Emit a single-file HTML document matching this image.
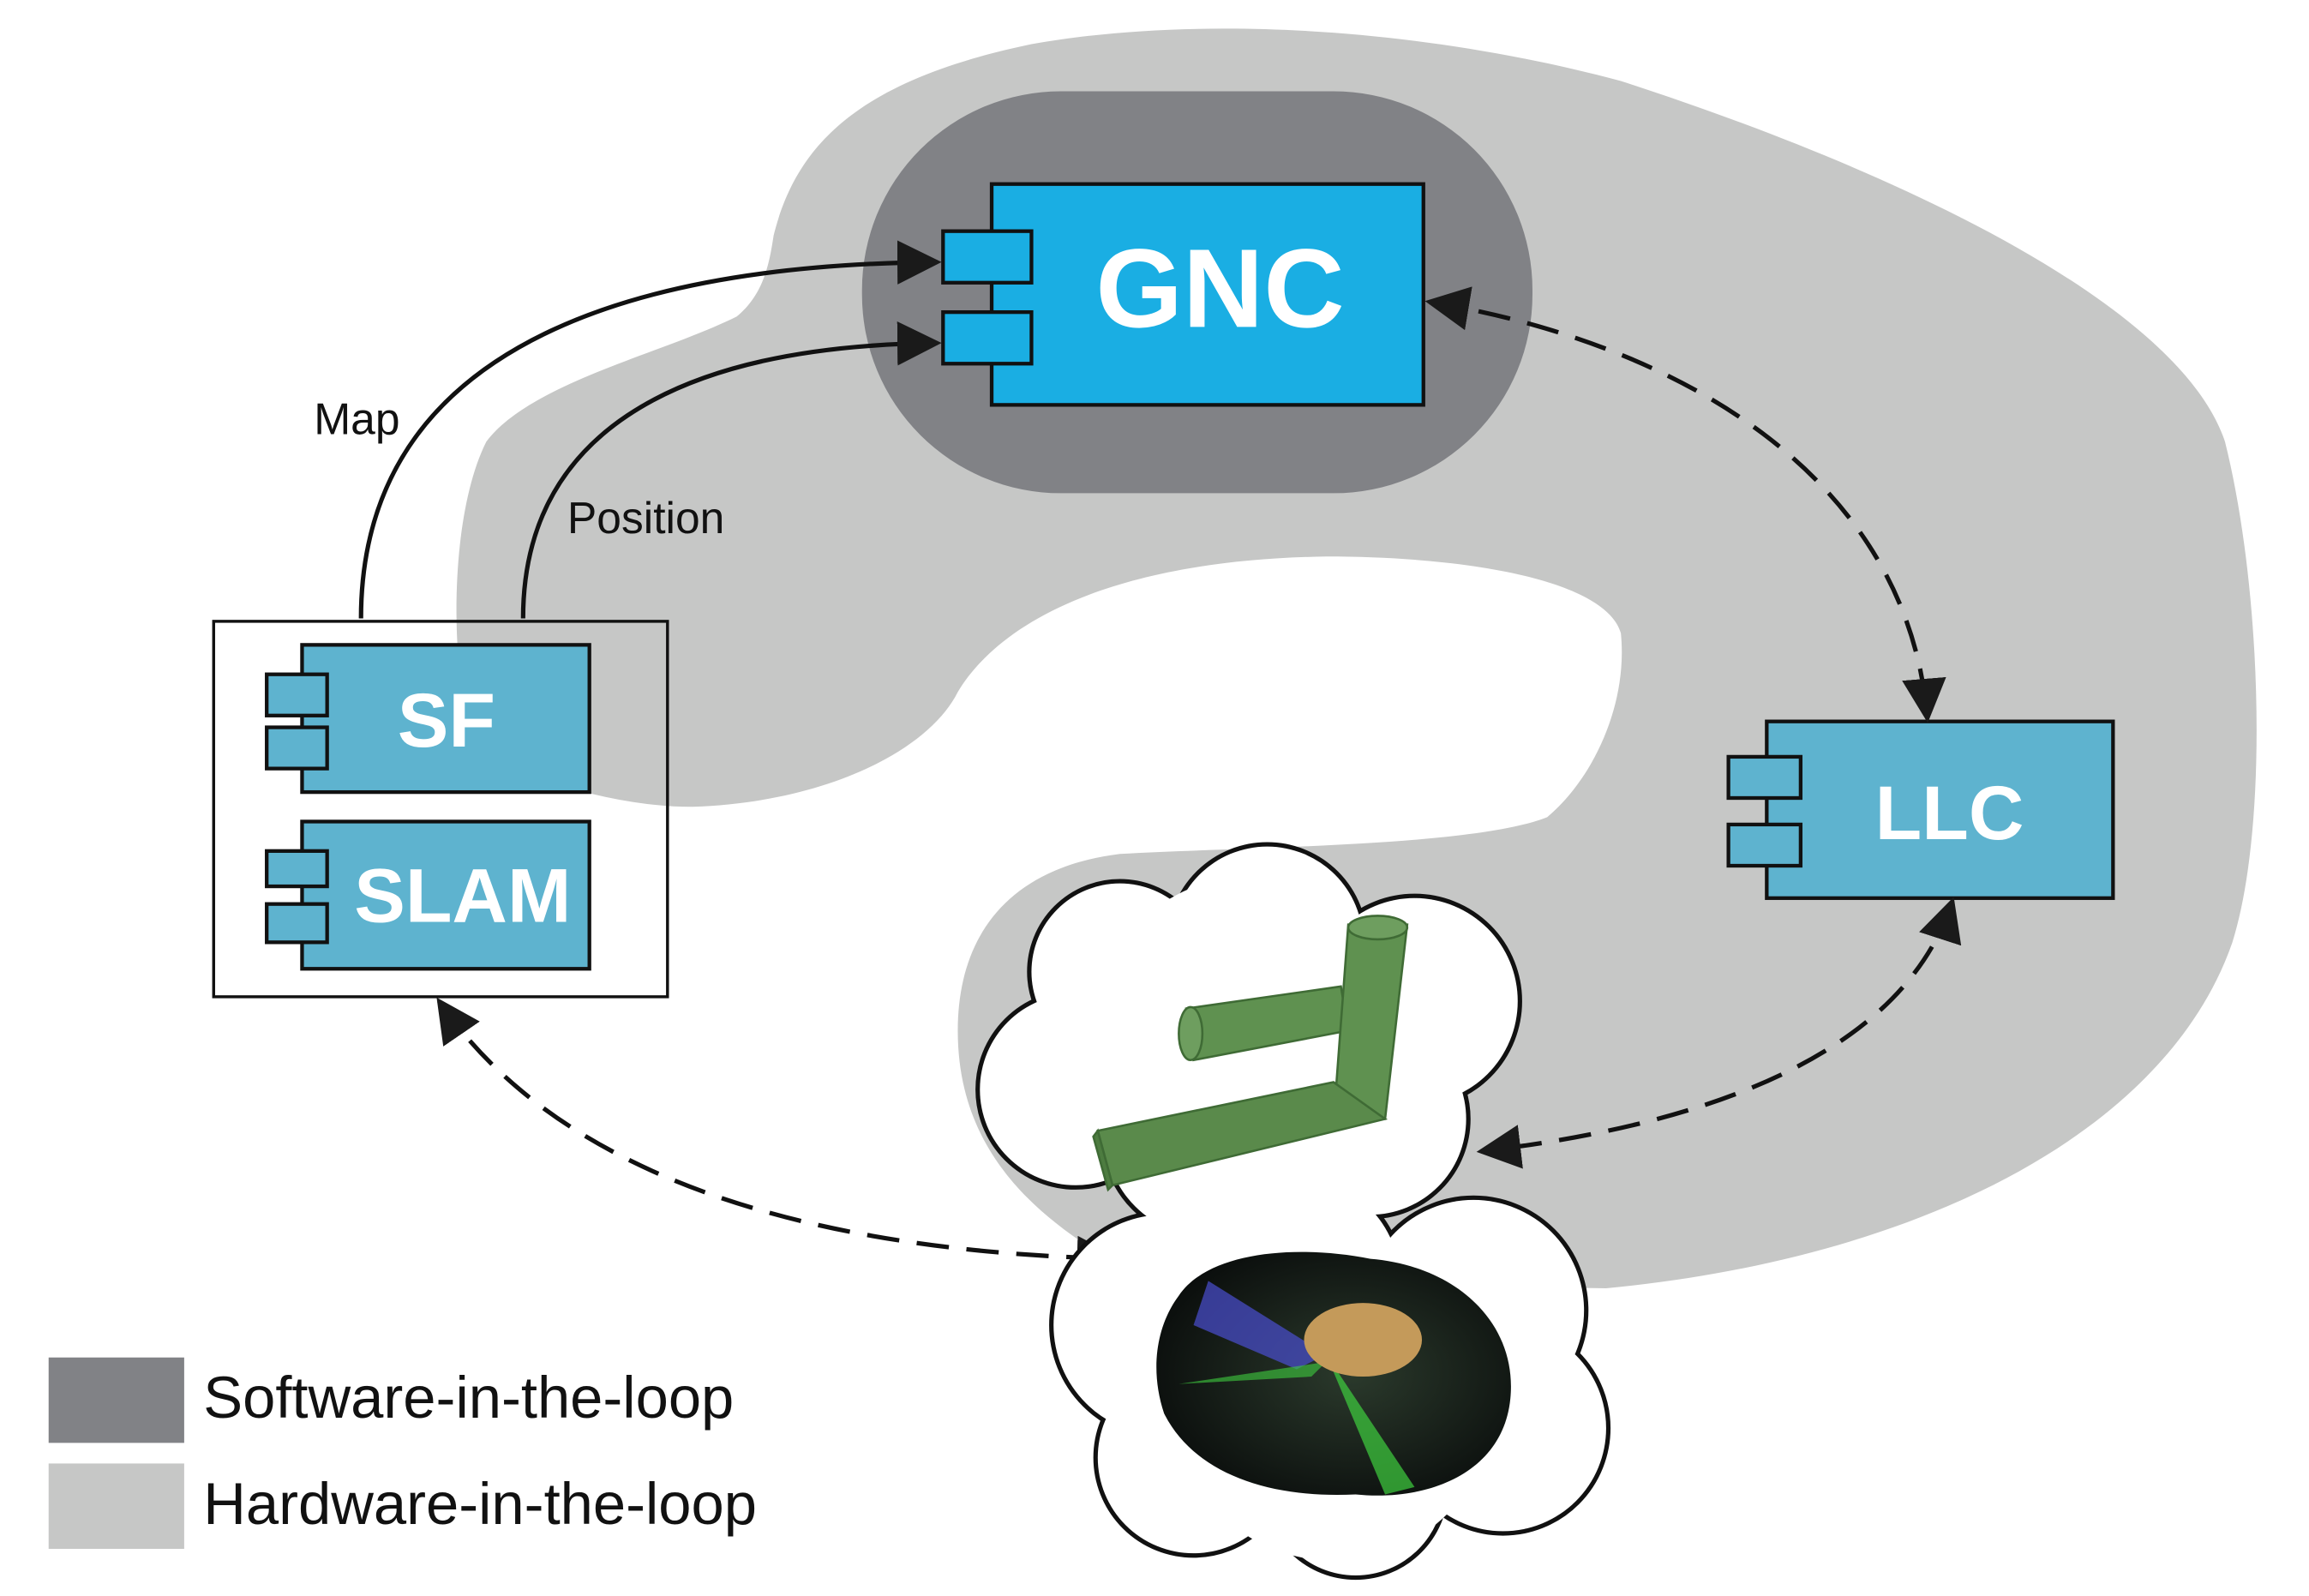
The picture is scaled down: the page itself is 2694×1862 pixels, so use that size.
<!DOCTYPE html>
<html><head><meta charset="utf-8"><style>
html,body{margin:0;padding:0;background:#fff;}
svg{display:block;}
text{font-family:"Liberation Sans",Arial,sans-serif;}
</style></head><body>
<svg width="2694" height="1862" viewBox="0 0 1567 1084" preserveAspectRatio="none" xmlns="http://www.w3.org/2000/svg">
<defs>
<marker id="ahs" viewBox="0 0 10 10" refX="9" refY="5" markerWidth="10" markerHeight="10" orient="auto-start-reverse">
<path d="M0,0 L10,5 L0,10 Z" fill="#1a1a1a"/></marker>
<radialGradient id="rg" cx="0.55" cy="0.5" r="0.6">
<stop offset="0" stop-color="#2b3a2c"/><stop offset="1" stop-color="#0a0d0c"/></radialGradient>
</defs>
<path fill="#c6c7c6" d="M525,160 C540,100 580,55 700,30 C800,12 950,15 1100,55 C1300,120 1480,210 1510,300 C1535,400 1540,560 1515,640 C1470,770 1300,855 1090,875 L780,870 C700,830 650,780 650,700 C650,640 680,590 760,580 C850,575 1000,575 1050,555 C1080,530 1105,480 1100,430 C1090,395 1000,378 900,378 C760,380 680,420 650,470 C630,510 560,545 470,548 C420,548 350,530 320,500 C305,450 305,350 330,300 C360,260 450,240 500,215 C518,200 522,180 525,160 Z"/>
<rect x="585" y="62" width="455" height="273" rx="135" fill="#818286"/>
<rect x="673" y="125" width="293" height="150" fill="#1aaee3" stroke="#111" stroke-width="2.5"/>
<rect x="640" y="157" width="60" height="35" fill="#1aaee3" stroke="#111" stroke-width="2.5"/>
<rect x="640" y="212" width="60" height="35" fill="#1aaee3" stroke="#111" stroke-width="2.5"/>
<text x="828" y="222" font-size="76" font-weight="bold" fill="#fff" text-anchor="middle">GNC</text>
<rect x="145" y="422" width="308" height="255" fill="none" stroke="#111" stroke-width="2"/>
<rect x="205" y="438" width="195" height="100" fill="#5eb3cf" stroke="#111" stroke-width="2.5"/>
<rect x="181" y="458" width="41" height="28" fill="#5eb3cf" stroke="#111" stroke-width="2.5"/>
<rect x="181" y="494" width="41" height="28" fill="#5eb3cf" stroke="#111" stroke-width="2.5"/>
<text x="303" y="507" font-size="52" font-weight="bold" fill="#fff" text-anchor="middle">SF</text>
<rect x="205" y="558" width="195" height="100" fill="#5eb3cf" stroke="#111" stroke-width="2.5"/>
<rect x="181" y="578" width="41" height="24" fill="#5eb3cf" stroke="#111" stroke-width="2.5"/>
<rect x="181" y="614" width="41" height="26" fill="#5eb3cf" stroke="#111" stroke-width="2.5"/>
<text x="314" y="626" font-size="52" font-weight="bold" fill="#fff" text-anchor="middle">SLAM</text>
<rect x="1199" y="490" width="235" height="120" fill="#5eb3cf" stroke="#111" stroke-width="2.5"/>
<rect x="1173" y="514" width="49" height="28" fill="#5eb3cf" stroke="#111" stroke-width="2.5"/>
<rect x="1173" y="560" width="49" height="28" fill="#5eb3cf" stroke="#111" stroke-width="2.5"/>
<text x="1323" y="570" font-size="52" font-weight="bold" fill="#fff" text-anchor="middle">LLC</text>
<path d="M245,420 C245,250 400,180 636,178" fill="none" stroke="#111" stroke-width="3" marker-end="url(#ahs)"/>
<path d="M355,420 C355,300 450,235 636,233" fill="none" stroke="#111" stroke-width="3" marker-end="url(#ahs)"/>
<text x="213" y="295" font-size="30" fill="#111">Map</text>
<text x="385" y="362" font-size="30" fill="#111">Position</text>
<path d="M970,205 C1150,235 1295,330 1308,488" fill="none" stroke="#111" stroke-width="3" stroke-dasharray="22,12" marker-start="url(#ahs)" marker-end="url(#ahs)"/>
<path d="M1325,612 C1290,720 1150,765 1005,782" fill="none" stroke="#111" stroke-width="3" stroke-dasharray="22,12" marker-start="url(#ahs)" marker-end="url(#ahs)"/>
<path d="M298,680 C380,800 550,850 758,855" fill="none" stroke="#111" stroke-width="3" stroke-dasharray="22,12" marker-start="url(#ahs)" marker-end="url(#ahs)"/>
<g stroke="#111" stroke-width="6" fill="#fff">
<circle cx="760" cy="660" r="60"/><circle cx="860" cy="640" r="65"/><circle cx="960" cy="680" r="70"/><circle cx="730" cy="740" r="65"/><circle cx="820" cy="770" r="70"/><circle cx="930" cy="760" r="65"/>
<circle cx="790" cy="900" r="75"/><circle cx="880" cy="870" r="70"/><circle cx="1000" cy="890" r="75"/><circle cx="810" cy="990" r="65"/><circle cx="920" cy="1010" r="60"/><circle cx="1020" cy="970" r="70"/>
</g>
<g fill="#fff">
<circle cx="760" cy="660" r="60"/><circle cx="860" cy="640" r="65"/><circle cx="960" cy="680" r="70"/><circle cx="730" cy="740" r="65"/><circle cx="820" cy="770" r="70"/><circle cx="930" cy="760" r="65"/><circle cx="850" cy="705" r="110"/>
<circle cx="790" cy="900" r="75"/><circle cx="880" cy="870" r="70"/><circle cx="1000" cy="890" r="75"/><circle cx="810" cy="990" r="65"/><circle cx="920" cy="1010" r="60"/><circle cx="1020" cy="970" r="70"/><circle cx="905" cy="950" r="110"/>
</g>
<g stroke="#3f6b35" stroke-width="1.5">
<polygon points="805,685 910,670 915,700 810,720" fill="#5f9150"/>
<ellipse cx="808" cy="702" rx="8" ry="18" fill="#6e9e5f"/>
<polygon points="915,628 955,628 940,760 905,762" fill="#5f9150"/>
<ellipse cx="935" cy="630" rx="20" ry="8" fill="#6e9e5f"/>
<polygon points="745,768 905,735 940,760 755,805" fill="#5a8a4b"/>
<polygon points="745,768 755,805 752,808 742,772" fill="#4d7c40"/>
</g>
<path d="M800,880 C820,850 880,845 930,855 C990,860 1030,900 1025,950 C1020,1000 970,1020 920,1015 C860,1018 810,1000 790,960 C780,930 785,900 800,880 Z" fill="url(#rg)"/>
<polygon points="820,870 900,920 880,930 810,900" fill="#4a4fd0" opacity="0.7"/>
<polygon points="900,920 960,1010 940,1015" fill="#3fcf3f" opacity="0.7"/>
<polygon points="800,940 900,925 890,935" fill="#3fcf3f" opacity="0.6"/>
<ellipse cx="925" cy="910" rx="40" ry="25" fill="#c49a5a"/>
<rect x="33" y="922" width="92" height="58" fill="#818286"/>
<rect x="33" y="994" width="92" height="58" fill="#c6c7c6"/>
<text x="138" y="963" font-size="40" fill="#111">Software-in-the-loop</text>
<text x="138" y="1035" font-size="40" fill="#111">Hardware-in-the-loop</text>
</svg>
</body></html>
